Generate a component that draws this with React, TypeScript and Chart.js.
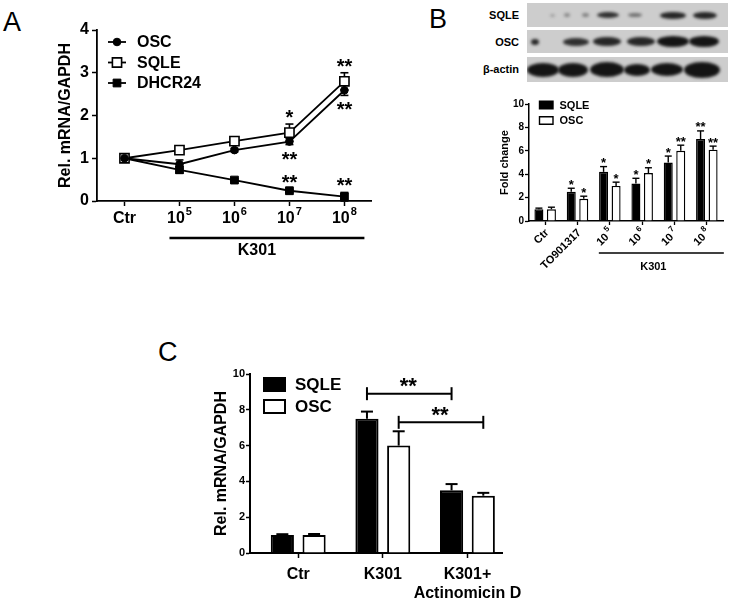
import React, { useEffect, useRef } from "react";
import { Chart, registerables } from "chart.js";

Chart.register(...registerables);

const FF = "'Liberation Sans', Arial, Helvetica, sans-serif";
const bf = (size: number) => `bold ${size}px ${FF}`;

// ---------------- Panel A (line chart) ----------------
const categoriesA = ["Ctr", "10⁵", "10⁶", "10⁷", "10⁸"];
const namesA = ["OSC", "SQLE", "DHCR24"];
const oscA = [1.0, 0.86, 1.19, 1.39, 2.59];
const oscErrA = [0.04, 0.1, 0.04, 0.07, 0.12];
const sqleA = [1.0, 1.19, 1.4, 1.6, 2.8];
const sqleErrA = [0.04, 0.05, 0.05, 0.2, 0.2];
const dhcrA = [1.0, 0.73, 0.49, 0.24, 0.1];
const dhcrErrA = [0.04, 0.08, 0.03, 0.03, 0.1];
const yTicksA = [0, 1, 2, 3, 4];
const groupLabelA = "K301";
// significance marks: [series index, category index, text, side]
const starsA: [number, number, string, "up" | "down"][] = [
  [1, 3, "*", "up"],
  [0, 3, "**", "down"],
  [2, 3, "**", "up"],
  [1, 4, "**", "up"],
  [0, 4, "**", "down"],
  [2, 4, "**", "up"],
];

// ---------------- Panel B (bar chart) ----------------
const categoriesB = ["Ctr", "TO901317", "10⁵", "10⁶", "10⁷", "10⁸"];
const namesB = ["SQLE", "OSC"];
const sqleB = [1.0, 2.5, 4.2, 3.2, 5.0, 7.0];
const sqleErrB = [0.1, 0.3, 0.45, 0.45, 0.55, 0.7];
const oscB = [1.0, 1.9, 3.0, 4.1, 6.0, 6.1];
const oscErrB = [0.18, 0.22, 0.32, 0.45, 0.48, 0.3];
const sqleStarsB = ["", "*", "*", "*", "*", "**"];
const oscStarsB = ["", "*", "*", "*", "**", "**"];
const yTicksB = [0, 2, 4, 6, 8, 10];
const groupLabelB = "K301";
const blotRows = ["SQLE", "OSC", "β-actin"];

// ---------------- Panel C (bar chart) ----------------
const categoriesC: (string | string[])[] = ["Ctr", "K301", ["K301+", "Actinomicin D"]];
const namesC = ["SQLE", "OSC"];
const sqleC = [1.0, 7.5, 3.5];
const sqleErrC = [0.05, 0.4, 0.35];
const oscC = [1.0, 6.0, 3.2];
const oscErrC = [0.06, 0.8, 0.16];
const yTicksC = [0, 2, 4, 6, 8, 10];
// comparison brackets: [series index, from category, to category, y value, text]
const bracketsC: [number, number, number, number, string][] = [
  [0, 1, 2, 8.9, "**"],
  [1, 1, 2, 7.3, "**"],
];

// ---------------- helpers ----------------
const SUP = "⁰¹²³⁴⁵⁶⁷⁸⁹";
function splitSup(label: string): [string, string] {
  let i = label.length;
  while (i > 0 && SUP.includes(label[i - 1])) i--;
  const sup = label
    .slice(i)
    .split("")
    .map((c) => String(SUP.indexOf(c)))
    .join("");
  return [label.slice(0, i), sup];
}

function drawCenteredGlyph(ctx: CanvasRenderingContext2D, text: string, x: number, cy: number, font: string) {
  ctx.font = font;
  ctx.textAlign = "center";
  ctx.textBaseline = "alphabetic";
  const m = ctx.measureText(text);
  const asc = m.actualBoundingBoxAscent;
  const desc = m.actualBoundingBoxDescent;
  ctx.fillText(text, x, cy + (asc - desc) / 2);
}

function line(ctx: CanvasRenderingContext2D, x1: number, y1: number, x2: number, y2: number) {
  ctx.beginPath();
  ctx.moveTo(x1, y1);
  ctx.lineTo(x2, y2);
  ctx.stroke();
}

const axisGrid = (tickLength: number, w: number) => ({
  display: true,
  drawOnChartArea: false,
  drawTicks: true,
  tickLength,
  tickWidth: w,
  tickColor: "#000",
  color: "#000",
  offset: false,
});
const axisBorder = (w: number) => ({ display: true, color: "#000", width: w });

// ---------------- plugins ----------------
const pluginA = {
  id: "panelA",
  beforeDatasetsDraw(chart: any) {
    const ctx: CanvasRenderingContext2D = chart.ctx;
    const ys = chart.scales.y;
    const errs = [oscErrA, sqleErrA, dhcrErrA];
    ctx.save();
    ctx.strokeStyle = "#000";
    ctx.lineWidth = 1.6;
    chart.data.datasets.forEach((ds: any, di: number) => {
      const meta = chart.getDatasetMeta(di);
      meta.data.forEach((pt: any, i: number) => {
        const v = ds.data[i];
        const e = errs[di][i];
        const yt = ys.getPixelForValue(v + e);
        const yb = ys.getPixelForValue(v - e);
        line(ctx, pt.x, yt, pt.x, yb);
        line(ctx, pt.x - 4, yt, pt.x + 4, yt);
        line(ctx, pt.x - 4, yb, pt.x + 4, yb);
      });
    });
    ctx.restore();
  },
  afterDraw(chart: any) {
    const ctx: CanvasRenderingContext2D = chart.ctx;
    const xs = chart.scales.x;
    const ys = chart.scales.y;
    const area = chart.chartArea;
    const errs = [oscErrA, sqleErrA, dhcrErrA];
    ctx.save();
    ctx.fillStyle = "#000";
    ctx.strokeStyle = "#000";
    // x tick labels with superscripts
    categoriesA.forEach((lab, i) => {
      const x = xs.getPixelForTick(i);
      const [base, sup] = splitSup(lab);
      ctx.textAlign = "left";
      ctx.textBaseline = "alphabetic";
      ctx.font = bf(16);
      const wb = ctx.measureText(base).width;
      ctx.font = bf(11);
      const ws = sup ? ctx.measureText(sup).width + 1 : 0;
      const x0 = x - (wb + ws) / 2;
      ctx.font = bf(16);
      ctx.fillText(base, x0, area.bottom + 22);
      if (sup) {
        ctx.font = bf(11);
        ctx.fillText(sup, x0 + wb + 1, area.bottom + 14);
      }
    });
    // group line + label
    const t1 = xs.getPixelForTick(1);
    const t4 = xs.getPixelForTick(categoriesA.length - 1);
    ctx.lineWidth = 2.5;
    line(ctx, t1 - 10, area.bottom + 37, t4 + 20, area.bottom + 37);
    ctx.font = bf(16);
    ctx.textAlign = "center";
    ctx.textBaseline = "middle";
    ctx.fillText(groupLabelA, (t1 + t4) / 2 - 5, area.bottom + 50);
    // legend
    const datasets = chart.data.datasets;
    datasets.forEach((ds: any, di: number) => {
      const cy = area.top + 12 + di * 20.5;
      const lx = area.left + 11;
      ctx.lineWidth = 1.8;
      line(ctx, lx, cy, lx + 18, cy);
      const mx = lx + 9;
      ctx.lineWidth = ds.pointBorderWidth;
      ctx.fillStyle = ds.pointBackgroundColor;
      if (ds.pointStyle === "circle") {
        ctx.beginPath();
        ctx.arc(mx, cy, ds.pointRadius, 0, Math.PI * 2);
        ctx.fill();
        ctx.stroke();
      } else {
        const s = ds.pointRadius * Math.SQRT1_2;
        ctx.beginPath();
        ctx.rect(mx - s, cy - s, 2 * s, 2 * s);
        ctx.fill();
        ctx.stroke();
      }
      ctx.fillStyle = "#000";
      ctx.font = bf(16);
      ctx.textAlign = "left";
      ctx.textBaseline = "middle";
      ctx.fillText(ds.label, lx + 29, cy + 1);
    });
    // stars
    starsA.forEach(([di, i, text, side]) => {
      const pt = chart.getDatasetMeta(di).data[i];
      const v = datasets[di].data[i];
      const e = errs[di][i];
      const cy = side === "up" ? ys.getPixelForValue(v + e) - 10 : ys.getPixelForValue(v - e) + 11;
      drawCenteredGlyph(ctx, text, pt.x, cy, bf(20));
    });
    ctx.restore();
  },
};

const pluginB = {
  id: "panelB",
  afterDatasetsDraw(chart: any) {
    const ctx: CanvasRenderingContext2D = chart.ctx;
    const ys = chart.scales.y;
    const errs = [sqleErrB, oscErrB];
    const stars = [sqleStarsB, oscStarsB];
    ctx.save();
    ctx.strokeStyle = "#000";
    ctx.fillStyle = "#000";
    ctx.lineWidth = 1.4;
    chart.data.datasets.forEach((ds: any, di: number) => {
      chart.getDatasetMeta(di).data.forEach((bar: any, i: number) => {
        const v = ds.data[i];
        const top = ys.getPixelForValue(v + errs[di][i]);
        line(ctx, bar.x, bar.y, bar.x, top);
        line(ctx, bar.x - 3.5, top, bar.x + 3.5, top);
        if (stars[di][i]) drawCenteredGlyph(ctx, stars[di][i], bar.x, top - 6, bf(13));
      });
    });
    ctx.restore();
  },
  afterDraw(chart: any) {
    const ctx: CanvasRenderingContext2D = chart.ctx;
    const xs = chart.scales.x;
    const area = chart.chartArea;
    ctx.save();
    ctx.fillStyle = "#000";
    ctx.strokeStyle = "#000";
    // rotated tick labels
    categoriesB.forEach((lab, i) => {
      const x = xs.getPixelForTick(i);
      const [base, sup] = splitSup(lab);
      ctx.save();
      ctx.translate(x + 2, area.bottom + 10);
      ctx.rotate(-Math.PI / 4);
      ctx.font = bf(11);
      const wb = ctx.measureText(base).width;
      ctx.font = bf(8);
      const ws = sup ? ctx.measureText(sup).width + 2 : 0;
      const total = wb + ws;
      ctx.textAlign = "left";
      ctx.textBaseline = "middle";
      ctx.font = bf(11);
      ctx.fillText(base, -total, 0);
      if (sup) {
        ctx.font = bf(8);
        ctx.fillText(sup, -total + wb + 2, -5);
      }
      ctx.restore();
    });
    // group line
    const t2 = xs.getPixelForTick(2);
    const t5 = xs.getPixelForTick(categoriesB.length - 1);
    ctx.lineWidth = 1.5;
    line(ctx, t2 - 11, area.bottom + 32, t5 + 17, area.bottom + 32);
    ctx.font = bf(11);
    ctx.textAlign = "center";
    ctx.textBaseline = "middle";
    ctx.fillText(groupLabelB, (t2 + t5) / 2 - 5, area.bottom + 46);
    // legend
    chart.data.datasets.forEach((ds: any, di: number) => {
      const cy = area.top + 1 + di * 15.5;
      const lx = area.left + 10.5;
      ctx.fillStyle = ds.backgroundColor;
      ctx.lineWidth = 1.4;
      ctx.beginPath();
      ctx.rect(lx, cy - 3.8, 13.5, 7.6);
      ctx.fill();
      ctx.stroke();
      ctx.fillStyle = "#000";
      ctx.font = bf(11);
      ctx.textAlign = "left";
      ctx.textBaseline = "middle";
      ctx.fillText(ds.label, lx + 20, cy + 0.5);
    });
    ctx.restore();
  },
};

const pluginC = {
  id: "panelC",
  afterDatasetsDraw(chart: any) {
    const ctx: CanvasRenderingContext2D = chart.ctx;
    const ys = chart.scales.y;
    const errs = [sqleErrC, oscErrC];
    ctx.save();
    ctx.strokeStyle = "#000";
    ctx.fillStyle = "#000";
    ctx.lineWidth = 2;
    chart.data.datasets.forEach((ds: any, di: number) => {
      chart.getDatasetMeta(di).data.forEach((bar: any, i: number) => {
        const v = ds.data[i].y;
        const top = ys.getPixelForValue(v + errs[di][i]);
        line(ctx, bar.x, bar.y, bar.x, top);
        line(ctx, bar.x - 6, top, bar.x + 6, top);
      });
    });
    bracketsC.forEach(([di, a, b, yv, text]) => {
      const meta = chart.getDatasetMeta(di);
      const x1 = meta.data[a].x;
      const x2 = meta.data[b].x;
      const y = ys.getPixelForValue(yv);
      line(ctx, x1, y, x2, y);
      line(ctx, x1, y - 6.5, x1, y + 6.5);
      line(ctx, x2, y - 6.5, x2, y + 6.5);
      drawCenteredGlyph(ctx, text, (x1 + x2) / 2 - 1, y - 11, bf(22));
    });
    ctx.restore();
  },
  afterDraw(chart: any) {
    const ctx: CanvasRenderingContext2D = chart.ctx;
    const area = chart.chartArea;
    ctx.save();
    chart.data.datasets.forEach((ds: any, di: number) => {
      const cy = area.top + 10.5 + di * 22;
      const lx = area.left + 14;
      ctx.fillStyle = ds.backgroundColor;
      ctx.strokeStyle = "#000";
      ctx.lineWidth = 2;
      ctx.beginPath();
      ctx.rect(lx, cy - 6.5, 21, 13);
      ctx.fill();
      ctx.stroke();
      ctx.fillStyle = "#000";
      ctx.font = bf(17);
      ctx.textAlign = "left";
      ctx.textBaseline = "middle";
      ctx.fillText(ds.label, lx + 31, cy + 1);
    });
    ctx.restore();
  },
};

// ---------------- charts ----------------
function makeA(canvas: HTMLCanvasElement) {
  return new Chart(canvas, {
    type: "line",
    data: {
      labels: categoriesA,
      datasets: [
        {
          label: namesA[0],
          data: oscA,
          borderColor: "#000",
          borderWidth: 1.8,
          pointStyle: "circle",
          pointRadius: 3.8,
          pointBackgroundColor: "#000",
          pointBorderColor: "#000",
          pointBorderWidth: 1,
          tension: 0,
        },
        {
          label: namesA[1],
          data: sqleA,
          borderColor: "#000",
          borderWidth: 1.8,
          pointStyle: "rect",
          pointRadius: 6.5,
          pointBackgroundColor: "#fff",
          pointBorderColor: "#000",
          pointBorderWidth: 1.6,
          tension: 0,
        },
        {
          label: namesA[2],
          data: dhcrA,
          borderColor: "#000",
          borderWidth: 1.8,
          pointStyle: "rect",
          pointRadius: 5.5,
          pointBackgroundColor: "#000",
          pointBorderColor: "#000",
          pointBorderWidth: 1,
          tension: 0,
        },
      ],
    } as any,
    options: {
      animation: false,
      responsive: false,
      devicePixelRatio: 1,
      layout: { padding: { left: 0, top: 30, right: 7, bottom: 0 } },
      plugins: { legend: { display: false }, tooltip: { enabled: false } },
      scales: {
        x: {
          type: "category",
          offset: true,
          grid: axisGrid(5, 1.5),
          border: axisBorder(1.8),
          ticks: { display: false },
          afterFit: (s: any) => {
            s.height = 69;
          },
        },
        y: {
          min: yTicksA[0],
          max: yTicksA[yTicksA.length - 1],
          grid: axisGrid(5, 1.5),
          border: axisBorder(1.8),
          ticks: { stepSize: yTicksA[1] - yTicksA[0], font: { family: FF, size: 16, weight: "bold" }, color: "#000", padding: 3 },
          title: {
            display: true,
            text: "Rel. mRNA/GAPDH",
            color: "#000",
            font: { family: FF, size: 16, weight: "bold" },
            padding: { top: 56, bottom: 0 },
          },
          afterFit: (s: any) => {
            s.width = 97;
          },
        },
      },
    } as any,
    plugins: [pluginA],
  });
}

function makeB(canvas: HTMLCanvasElement) {
  const common = { borderColor: "#000", borderWidth: 1.4, borderSkipped: "bottom", categoryPercentage: 0.774, barPercentage: 0.72 };
  return new Chart(canvas, {
    type: "bar",
    data: {
      labels: categoriesB,
      datasets: [
        { label: namesB[0], data: sqleB, backgroundColor: "#000", ...common },
        { label: namesB[1], data: oscB, backgroundColor: "#fff", ...common },
      ],
    } as any,
    options: {
      animation: false,
      responsive: false,
      devicePixelRatio: 1,
      layout: { padding: { left: 0, top: 14, right: 10, bottom: 0 } },
      plugins: { legend: { display: false }, tooltip: { enabled: false } },
      scales: {
        x: {
          type: "category",
          offset: true,
          grid: axisGrid(4, 1.3),
          border: axisBorder(1.5),
          ticks: { display: false },
          afterFit: (s: any) => {
            s.height = 59;
          },
        },
        y: {
          min: yTicksB[0],
          max: yTicksB[yTicksB.length - 1],
          grid: axisGrid(4, 1.3),
          border: axisBorder(1.5),
          ticks: { stepSize: yTicksB[1] - yTicksB[0], font: { family: FF, size: 10, weight: "bold" }, color: "#000", padding: 1 },
          title: {
            display: true,
            text: "Fold change",
            color: "#000",
            font: { family: FF, size: 11, weight: "bold" },
            padding: { top: 18, bottom: 0 },
          },
          afterFit: (s: any) => {
            s.width = 49;
          },
        },
      },
    } as any,
    plugins: [pluginB],
  });
}

function makeC(canvas: HTMLCanvasElement) {
  const common = { borderColor: "#000", borderWidth: 2, borderSkipped: "bottom", categoryPercentage: 0.75, barPercentage: 0.73 };
  return new Chart(canvas, {
    type: "bar",
    data: {
      datasets: [
        { label: namesC[0], data: sqleC.map((v, i) => ({ x: i, y: v })), backgroundColor: "#000", ...common },
        { label: namesC[1], data: oscC.map((v, i) => ({ x: i, y: v })), backgroundColor: "#fff", ...common },
      ],
    } as any,
    options: {
      animation: false,
      responsive: false,
      devicePixelRatio: 1,
      layout: { padding: { left: 0, top: 34, right: 13, bottom: 0 } },
      plugins: { legend: { display: false }, tooltip: { enabled: false } },
      scales: {
        x: {
          type: "linear",
          offset: false,
          min: -0.57,
          max: categoriesC.length - 0.59,
          grid: axisGrid(5, 1.5),
          border: axisBorder(2),
          afterBuildTicks: (s: any) => {
            s.ticks = categoriesC.map((_, i) => ({ value: i }));
          },
          ticks: {
            font: { family: FF, size: 16, weight: "bold" },
            color: "#000",
            padding: 7,
            maxRotation: 0,
            autoSkip: false,
            callback: (_v: any, i: number) => categoriesC[i],
          },
          afterFit: (s: any) => {
            s.height = 49;
          },
        },
        y: {
          min: yTicksC[0],
          max: yTicksC[yTicksC.length - 1],
          grid: axisGrid(4, 1.5),
          border: axisBorder(2),
          ticks: { stepSize: yTicksC[1] - yTicksC[0], font: { family: FF, size: 11, weight: "bold" }, color: "#000", padding: 1 },
          title: {
            display: true,
            text: "Rel. mRNA/GAPDH",
            color: "#000",
            font: { family: FF, size: 16, weight: "bold" },
            padding: { top: 62, bottom: 0 },
          },
          afterFit: (s: any) => {
            s.width = 100;
          },
        },
      },
    } as any,
    plugins: [pluginC],
  });
}

// ---------------- western blot (decorative) ----------------
// bands: [center x within strip, width, height, darkness]
const bandsSQLE: [number, number, number, number][] = [
  [25, 5, 3, 0.25], [40, 6, 4, 0.35], [58, 7, 4, 0.4], [81, 22, 6, 0.85],
  [108, 14, 4, 0.5], [146, 26, 7, 0.9], [178, 24, 7, 0.9],
];
const bandsOSC: [number, number, number, number][] = [
  [8, 8, 6, 0.9], [49, 26, 8, 0.85], [80, 28, 9, 0.9], [114, 28, 9, 0.9],
  [146, 32, 11, 1], [177, 30, 11, 1],
];
const bandsActin: [number, number, number, number][] = [
  [16, 32, 14, 1], [46, 30, 14, 1], [80, 34, 15, 1], [110, 26, 12, 1],
  [140, 32, 13, 1], [175, 36, 16, 1],
];

function Strip({ top, height, bands }: { top: number; height: number; bands: [number, number, number, number][] }) {
  return (
    <div
      style={{
        position: "absolute",
        left: 527,
        top,
        width: 201,
        height,
        background: "#cdcdcd",
        overflow: "hidden",
      }}
    >
      {bands.map(([cx, w, h, d], k) => (
        <div
          key={k}
          style={{
            position: "absolute",
            left: cx - w / 2,
            top: height / 2 - h / 2,
            width: w,
            height: h,
            borderRadius: "50%",
            background: `rgba(20,20,20,${d})`,
            filter: "blur(1.5px)",
          }}
        />
      ))}
    </div>
  );
}

export default function App() {
  const refA = useRef<HTMLCanvasElement>(null);
  const refB = useRef<HTMLCanvasElement>(null);
  const refC = useRef<HTMLCanvasElement>(null);

  useEffect(() => {
    const a = makeA(refA.current!);
    const b = makeB(refB.current!);
    const c = makeC(refC.current!);
    return () => {
      a.destroy();
      b.destroy();
      c.destroy();
    };
  }, []);

  const letter = (ch: string, left: number, top: number) => (
    <div
      style={{
        position: "absolute",
        left,
        top,
        fontFamily: FF,
        fontSize: 27,
        lineHeight: "27px",
        color: "#000",
      }}
    >
      {ch}
    </div>
  );

  const rowLabel = (text: string, cy: number) => (
    <div
      style={{
        position: "absolute",
        right: 733 - 519,
        top: cy - 7,
        fontFamily: FF,
        fontWeight: "bold",
        fontSize: 11,
        lineHeight: "14px",
        color: "#000",
        whiteSpace: "nowrap",
      }}
    >
      {text}
    </div>
  );

  return (
    <div
      style={{
        position: "fixed",
        left: 0,
        top: 0,
        width: 733,
        height: 602,
        background: "#fff",
        overflow: "hidden",
      }}
    >
      {letter("A", 3, 9)}
      {letter("B", 429, 6)}
      {letter("C", 158, 339)}
      <canvas ref={refA} width={380} height={270} style={{ position: "absolute", left: 0, top: 0, width: 380, height: 270 }} />
      <Strip top={3} height={24} bands={bandsSQLE} />
      <Strip top={30} height={23} bands={bandsOSC} />
      <Strip top={57} height={25} bands={bandsActin} />
      {rowLabel(blotRows[0], 15)}
      {rowLabel(blotRows[1], 42)}
      {rowLabel(blotRows[2], 69)}
      <canvas ref={refB} width={253} height={190} style={{ position: "absolute", left: 480, top: 90, width: 253, height: 190 }} />
      <canvas ref={refC} width={380} height={262} style={{ position: "absolute", left: 150, top: 340, width: 380, height: 262 }} />
    </div>
  );
}
